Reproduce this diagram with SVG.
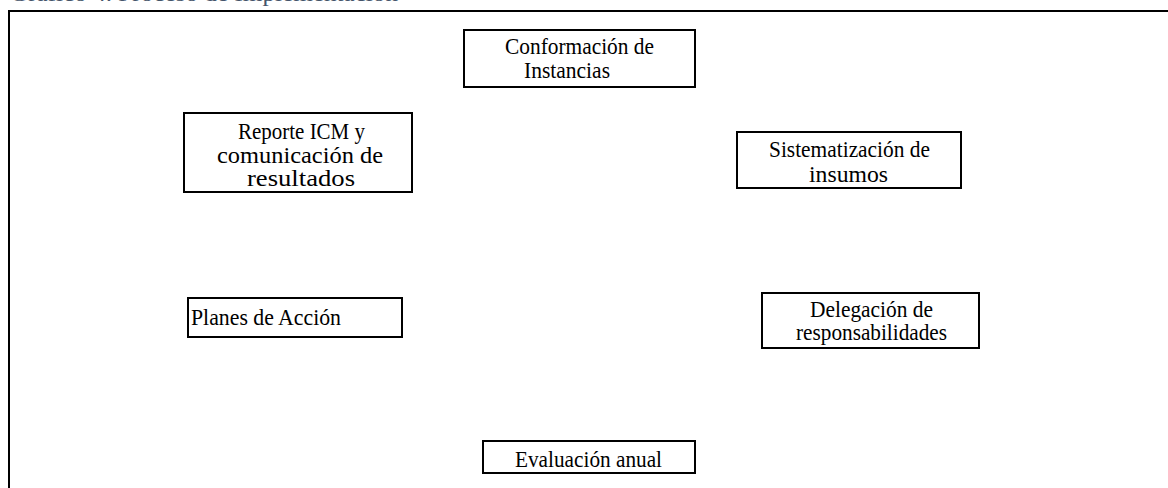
<svg xmlns="http://www.w3.org/2000/svg" width="1168" height="488" viewBox="0 0 1168 488">
<style>
.box{fill:#ffffff;stroke:#000000;stroke-width:2}
.t{font-family:"Liberation Serif","Times New Roman",serif;font-size:23px;fill:#000000}
.title{font-family:"Liberation Serif","Times New Roman",serif;font-size:22px;fill:#44546A}
</style>
<rect x="0" y="0" width="1168" height="488" fill="#ffffff"/>
<text class="title" x="10" y="0.5" textLength="388" lengthAdjust="spacingAndGlyphs">Gráfico 4. Proceso de Implementación</text>
<rect x="9" y="11" width="1200" height="500" fill="none" stroke="#000000" stroke-width="2"/>
<g id="connectors"></g>
<g id="n-conformacion">
<rect class="box" x="464" y="30" width="231" height="57"/>
<text class="t" x="505" y="54" textLength="149" lengthAdjust="spacingAndGlyphs">Conformación de</text>
<text class="t" x="524" y="78" textLength="86" lengthAdjust="spacingAndGlyphs">Instancias</text>
</g>
<g id="n-reporte">
<rect class="box" x="184" y="113" width="228" height="79"/>
<text class="t" x="238" y="139" textLength="127" lengthAdjust="spacingAndGlyphs">Reporte ICM y</text>
<text class="t" x="217" y="163" textLength="166" lengthAdjust="spacingAndGlyphs">comunicación de</text>
<text class="t" x="247" y="186" textLength="108" lengthAdjust="spacingAndGlyphs">resultados</text>
</g>
<g id="n-sistematizacion">
<rect class="box" x="737" y="132" width="224" height="56"/>
<text class="t" x="769" y="157" textLength="161" lengthAdjust="spacingAndGlyphs">Sistematización de</text>
<text class="t" x="809" y="182" textLength="79" lengthAdjust="spacingAndGlyphs">insumos</text>
</g>
<g id="n-planes">
<rect class="box" x="188" y="298" width="214" height="39"/>
<text class="t" x="191" y="325" textLength="150" lengthAdjust="spacingAndGlyphs">Planes de Acción</text>
</g>
<g id="n-delegacion">
<rect class="box" x="762" y="293" width="217" height="55"/>
<text class="t" x="810" y="317" textLength="123" lengthAdjust="spacingAndGlyphs">Delegación de</text>
<text class="t" x="796" y="340" textLength="151" lengthAdjust="spacingAndGlyphs">responsabilidades</text>
</g>
<g id="n-evaluacion">
<rect class="box" x="483" y="441" width="212" height="32"/>
<text class="t" x="515" y="467" textLength="147" lengthAdjust="spacingAndGlyphs">Evaluación anual</text>
</g>
</svg>
